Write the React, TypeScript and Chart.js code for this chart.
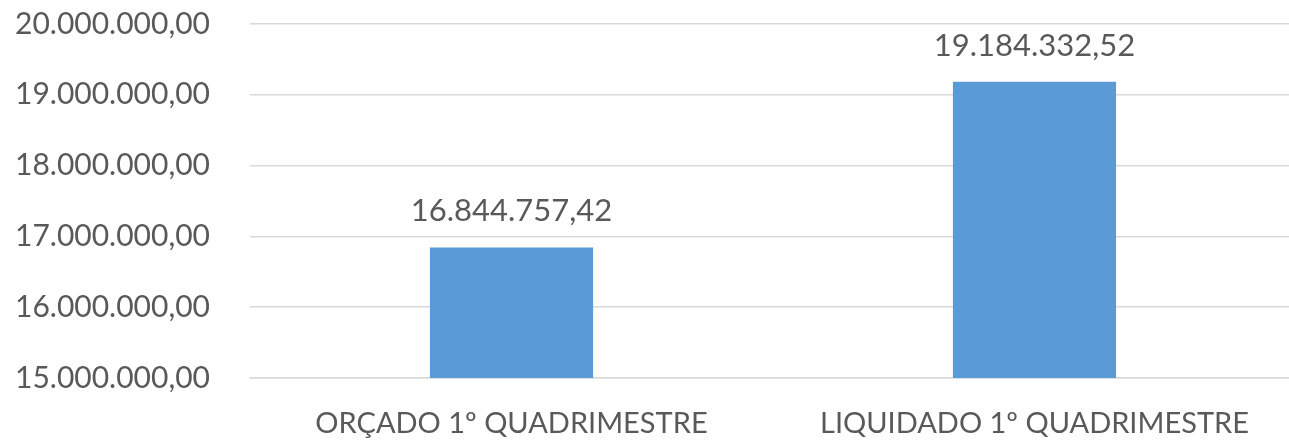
import React, { useEffect, useRef } from "react";
import { Chart, registerables } from "chart.js";

Chart.register(...registerables);

const categories = ["ORÇADO 1º QUADRIMESTRE", "LIQUIDADO 1º QUADRIMESTRE"];
const values = [16844757.42, 19184332.52];
const yMin = 15000000;
const yMax = 20000000;
const yStep = 1000000;

const FONT = "Lato, 'Open Sans', sans-serif";
const TEXT = "#595959";
const GRID = "#d9d9d9";
const BAR = "#5B9BD5";

function fmt(v: number): string {
  const neg = v < 0;
  const [i, d] = Math.abs(v).toFixed(2).split(".");
  const withDots = i.replace(/\B(?=(\d{3})+(?!\d))/g, ".");
  return (neg ? "-" : "") + withDots + "," + d;
}

const labelPlugin = {
  id: "barValueLabels",
  afterDatasetsDraw(chart: any) {
    const { ctx } = chart;
    const meta = chart.getDatasetMeta(0);
    ctx.save();
    ctx.font = `31px ${FONT}`;
    ctx.fillStyle = TEXT;
    ctx.textAlign = "center";
    ctx.textBaseline = "middle";
    meta.data.forEach((bar: any, i: number) => {
      ctx.fillText(fmt(values[i]), bar.x, bar.y - 36);
    });
    ctx.restore();
  },
};

export default function App() {
  const ref = useRef<HTMLCanvasElement | null>(null);
  useEffect(() => {
    document.body.style.margin = "0";
    const chart = new Chart(ref.current!, {
      type: "bar",
      data: {
        labels: categories,
        datasets: [
          {
            data: values,
            backgroundColor: BAR,
            borderWidth: 0,
            barPercentage: 0.312,
            categoryPercentage: 1,
          },
        ],
      },
      options: {
        responsive: false,
        animation: false,
        layout: { padding: { top: 24, right: 0, left: 0, bottom: 0 } },
        plugins: { legend: { display: false }, tooltip: { enabled: false } },
        scales: {
          x: {
            grid: { display: false, drawTicks: false },
            border: { display: true, color: GRID, width: 1.5 },
            ticks: {
              color: TEXT,
              font: { family: FONT, size: 29 },
              padding: 28,
              maxRotation: 0,
              autoSkip: false,
            },
            afterFit: (s: any) => {
              s.height = 64;
              s.paddingLeft = 0;
              s.paddingRight = 0;
            },
          },
          y: {
            min: yMin,
            max: yMax,
            grid: { color: GRID, lineWidth: 1.5, drawTicks: false },
            border: { display: false },
            ticks: {
              stepSize: yStep,
              color: TEXT,
              font: { family: FONT, size: 30 },
              padding: 40,
              callback: (v: any) => fmt(Number(v)),
            },
            afterFit: (s: any) => {
              s.width = 250;
              s.paddingTop = 0;
              s.paddingBottom = 0;
            },
          },
        },
      },
      plugins: [labelPlugin],
    });
    return () => chart.destroy();
  }, []);
  return (
    <div style={{ position: "absolute", left: 0, top: 0, width: 1289, height: 442, overflow: "hidden" }}>
      <canvas ref={ref} width={1296} height={442} style={{ display: "block" }} />
    </div>
  );
}
